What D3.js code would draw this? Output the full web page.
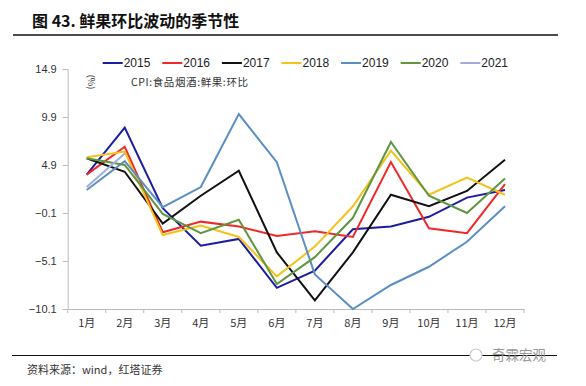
<!DOCTYPE html>
<html><head><meta charset="utf-8">
<script src="https://cdn.jsdelivr.net/npm/d3@7"></script>
<style>body{margin:0;background:#fff}svg{display:block}</style>
</head><body>
<svg id="c" width="586" height="386"></svg>
<script>
const months = ["1月","2月","3月","4月","5月","6月","7月","8月","9月","10月","11月","12月"];
const yTicks = [-10.1,-5.1,-0.1,4.9,9.9,14.9];
const s2015 = [3.9,8.8,0.4,-3.5,-2.8,-7.9,-6.1,-1.8,-1.5,-0.5,1.5,2.3];
const s2016 = [3.9,6.8,-2.1,-1.0,-1.5,-2.5,-2.0,-2.6,5.2,-1.7,-2.2,2.9];
const s2017 = [5.6,4.2,-1.2,1.7,4.3,-4.2,-9.2,-4.2,1.8,0.6,2.2,5.45];
const s2018 = [5.7,6.3,-2.4,-1.4,-2.6,-6.7,-3.6,0.6,6.4,1.8,3.6,1.8];
const s2019 = [2.3,5.3,0.5,2.6,10.2,5.2,-6.5,-10.1,-7.6,-5.7,-3.1,0.6];
const s2020 = [5.6,4.9,-0.2,-2.2,-0.8,-7.5,-4.7,-0.6,7.3,1.7,-0.1,3.5];
const s2021 = [2.6,6.1];
const seriesNames = ["2015","2016","2017","2018","2019","2020","2021"];
const seriesColors = ["#1c1ca0","#f0282a","#111111","#f5c21b","#5b8ec2","#5f9640","#a3acdc"];
const seriesData = [s2015,s2016,s2017,s2018,s2019,s2020,s2021];

const svg = d3.select("#c");
const cjk = "'Noto Sans CJK SC','Liberation Sans',sans-serif";

// title
svg.append("text").attr("x",32).attr("y",27).attr("font-family",cjk).attr("font-weight","bold")
  .attr("font-size",16).attr("fill","#111").text("图 43. 鲜果环比波动的季节性");
svg.append("line").attr("x1",13).attr("x2",558).attr("y1",35).attr("y2",35).attr("stroke","#111").attr("stroke-width",1.5);
svg.append("line").attr("x1",12).attr("x2",557).attr("y1",355.5).attr("y2",355.5).attr("stroke","#111").attr("stroke-width",1.2);
svg.append("text").attr("x",27).attr("y",374).attr("font-family",cjk).attr("font-size",11).attr("fill","#333").text("资料来源：wind，红塔证券");
svg.append("text").attr("x",492).attr("y",360).attr("font-family",cjk).attr("font-size",13.5).attr("fill","#999").text("奇霖宏观");
svg.append("circle").attr("cx",476).attr("cy",355).attr("r",6).attr("fill","#fff").attr("stroke","#ccc").attr("stroke-width",1.2);

const x = d3.scaleBand().domain(months).range([67.7,524]);
const y = d3.scaleLinear().domain([-10.1,14.9]).range([309,69]);

// y axis
const ya = svg.append("g").attr("transform","translate(67.7,0)")
  .call(d3.axisLeft(y).tickValues(yTicks).tickSize(5).tickPadding(6).tickFormat(d3.format(".1f")));
ya.select(".domain").attr("stroke","#bbb");
ya.selectAll(".tick line").attr("stroke","#bbb");
ya.selectAll("text").attr("font-family","'Liberation Sans',sans-serif").attr("font-size",11).attr("fill","#333");

// x axis
const xa = svg.append("g").attr("transform","translate(0,309)")
  .call(d3.axisBottom(x).tickSize(0).tickPadding(10).tickSizeOuter(0));
xa.select(".domain").attr("stroke","#bbb");
xa.selectAll("text").attr("font-family",cjk).attr("font-size",11).attr("fill","#333");
svg.append("g").selectAll("line").data(months.concat(["end"])).join("line")
  .attr("x1",(d,i)=>67.7+i*x.step()).attr("x2",(d,i)=>67.7+i*x.step())
  .attr("y1",309).attr("y2",313).attr("stroke","#bbb");

// lines
const line = d3.line().x((d,i)=>x(months[i])+x.bandwidth()/2).y(d=>y(d));
seriesData.forEach((s,k)=>{
  svg.append("path").datum(s).attr("d",line).attr("fill","none")
    .attr("stroke",seriesColors[k]).attr("stroke-width",2).attr("stroke-linejoin","miter");
});

// legend
const lg = svg.append("g");
seriesNames.forEach((n,k)=>{
  const lx = 102.7 + k*59.6;
  lg.append("line").attr("x1",lx).attr("x2",lx+20).attr("y1",63).attr("y2",63)
    .attr("stroke",seriesColors[k]).attr("stroke-width",2);
  lg.append("text").attr("x",lx+21).attr("y",67).attr("font-family","'Liberation Sans',sans-serif")
    .attr("font-size",12).attr("fill","#222").text(n);
});
svg.append("text").attr("transform","translate(88,82) rotate(90)").attr("text-anchor","middle")
  .attr("font-family",cjk).attr("font-size",9).attr("fill","#333").text("(%)");
svg.append("text").attr("x",131).attr("y",86).attr("font-family",cjk).attr("font-size",10.5)
  .attr("fill","#333").attr("letter-spacing",0.6).text("CPI:食品烟酒:鲜果:环比");
</script>
</body></html>
